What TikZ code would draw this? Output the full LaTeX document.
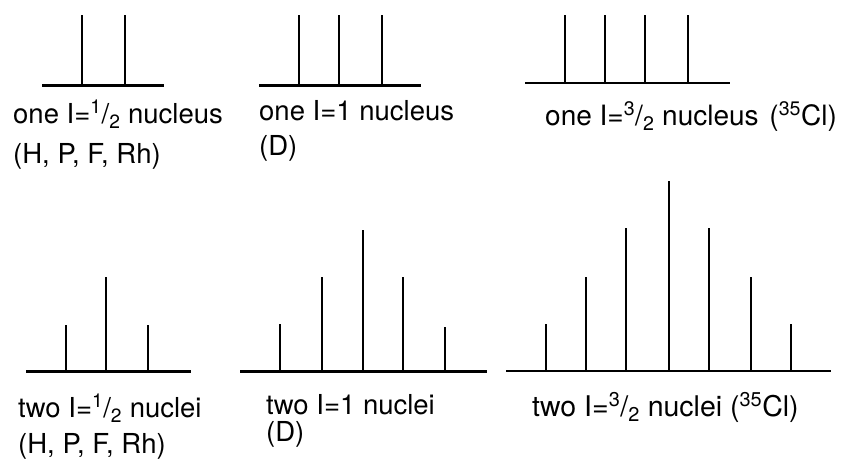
\documentclass[tikz,border=0pt]{standalone}
\usepackage{fontspec}
\setmainfont{TeX Gyre Heros}
\begin{document}
\begin{tikzpicture}[x=1pt,y=-1pt,
  peak/.style={line width=2.1pt, line cap=butt},
  lbl/.style={anchor=base west, inner sep=0pt, font=\fontsize{27.5}{32}\selectfont},
  lblbig/.style={lbl, font=\fontsize{28}{33}\selectfont}]
\useasboundingbox (0,0) rectangle (841,460);
% ---- top row ----
\draw[peak] (42,85.5) -- (164,85.5);
\foreach \x in {82,125} \draw[peak] (\x,85.5) -- (\x,15);
\draw[peak] (259,85.5) -- (421,85.5);
\foreach \x in {299,339,382} \draw[peak] (\x,85.5) -- (\x,15);
\draw[peak] (525,83) -- (730,83);
\foreach \x in {565,605,645,688} \draw[peak] (\x,83) -- (\x,15);
% ---- bottom row ----
\draw[peak] (26,371.5) -- (191,371.5);
\foreach \x/\t in {66/325,106/277,148/325} \draw[peak] (\x,371.5) -- (\x,\t);
\draw[peak] (240,371.5) -- (487,371.5);
\foreach \x/\t in {280/324,322/277,363/230,403/277,445/327} \draw[peak] (\x,371.5) -- (\x,\t);
\draw[peak] (506,371) -- (831,371);
\foreach \x/\t in {546/324,586/277,626/228,669/181,709/228,751/277,791/324} \draw[peak] (\x,371) -- (\x,\t);
% ---- labels ----
\node[lbl] (t1a) at (13,123) {one I=\textsuperscript{1}/\textsubscript{2} nucleus};
\node[lbl] (t1b) at (13,163) {(H, P, F, Rh)};
\node[lbl] (t2a) at (259,121) {one I=1 nucleus};
\node[lbl] (t2b) at (259,155) {(D)};
\node[lblbig] (t3a) at (545,125) {one I=\textsuperscript{3}/\textsubscript{2} nucleus\hspace{3pt} (\textsuperscript{35}Cl)};
\node[lbl] (b1a) at (18,417) {two I=\textsuperscript{1}/\textsubscript{2} nuclei};
\node[lbl] (b1b) at (18,453) {(H, P, F, Rh)};
\node[lbl] (b2a) at (266,414) {two I=1 nuclei};
\node[lbl] (b2b) at (266,441) {(D)};
\node[lbl, font=\fontsize{28.5}{33}\selectfont] (b3a) at (532,416) {two I=\textsuperscript{3}/\textsubscript{2} nuclei (\textsuperscript{35}Cl)};
\end{tikzpicture}
\end{document}
